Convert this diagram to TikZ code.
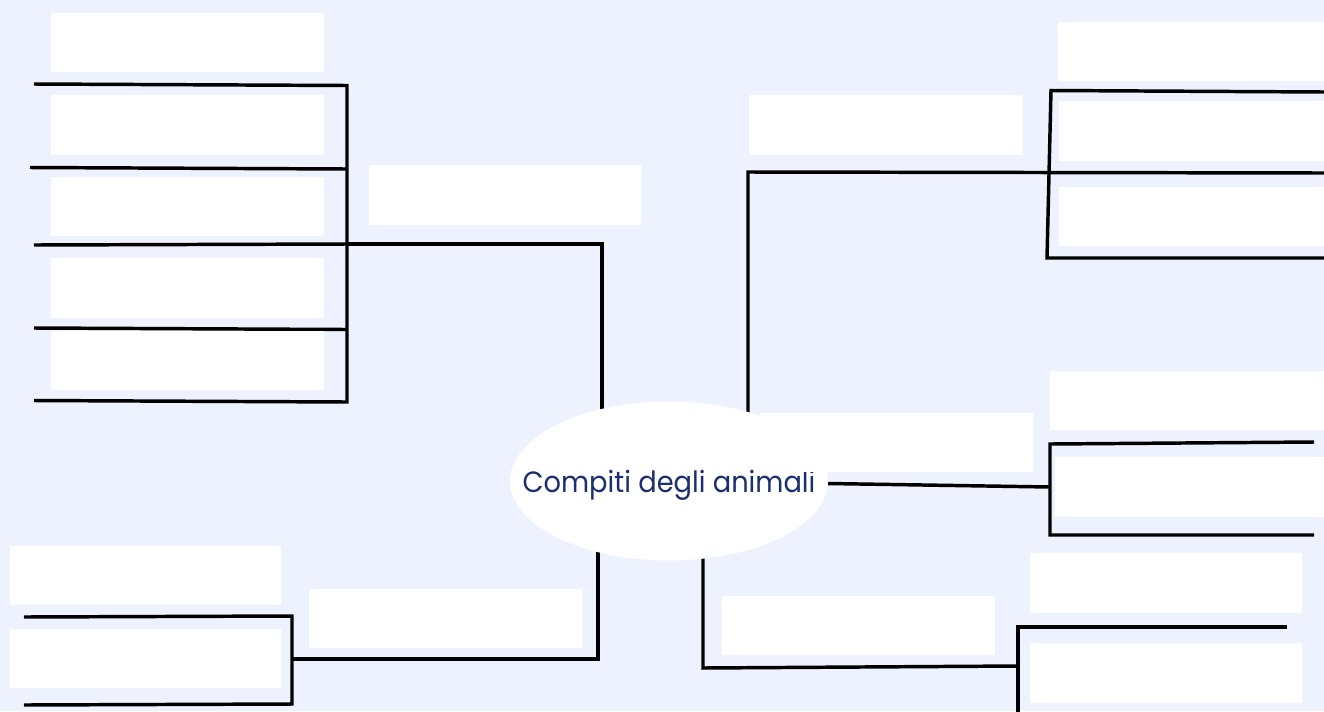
\documentclass[tikz,border=0pt]{standalone}
\usepackage{fontspec}
\setmainfont{Poppins}
\usetikzlibrary{fit,shapes.geometric}
\definecolor{bgc}{RGB}{238,242,254}
\definecolor{navy}{RGB}{27,47,110}
\pgfdeclarelayer{bgl}
\pgfdeclarelayer{lines}
\pgfsetlayers{bgl,lines,main}
\begin{document}
\begin{tikzpicture}[x=0.75pt,y=-0.75pt,
  box/.style={fill=white, draw=none, inner sep=0pt},
  ln/.style={line width=2.6pt, line join=miter}]
\begin{pgfonlayer}{bgl}
\fill[bgc] (0,0) rectangle (1324,711);
\end{pgfonlayer}
\useasboundingbox (0,0) rectangle (1324,711);

% centre
\node[ellipse, fill=white, inner sep=0pt, minimum width=238.5pt, minimum height=119.25pt] (C) at (669,481) {};
\node[text=navy, font=\fontsize{22}{25}\selectfont, anchor=base, inner sep=0pt] (T) at (669,492) {\scalebox{0.93}[1]{Compiti degli animali}};

% left group
\node[box, fit={(51,13)(324,72)}] (L0) {};
\node[box, fit={(51,95)(324,155)}] (L1) {};
\node[box, fit={(51,177)(324,236)}] (L2) {};
\node[box, fit={(51,258)(324,318)}] (L3) {};
\node[box, fit={(51,331)(324,390)}] (L4) {};
\node[box, fit={(369,165)(641,225)}] (Lm) {};

% right top group
\node[box, fit={(1058,22)(1324,81)}] (RT0) {};
\node[box, fit={(1059,101)(1324,161)}] (RT1) {};
\node[box, fit={(1059,187)(1324,246)}] (RT2) {};
\node[box, fit={(749,95)(1022,155)}] (RTm) {};

% right middle group
\node[box, fit={(1050,371)(1324,430)}] (RM0) {};
\node[box, fit={(1055,457)(1324,517)}] (RM1) {};
\node[box, fit={(760,413)(1033,472)}] (RMm) {};

% right bottom group
\node[box, fit={(1030,553)(1302,613)}] (RB0) {};
\node[box, fit={(1030,643)(1302,703)}] (RB1) {};
\node[box, fit={(722,596)(995,655)}] (RBm) {};

% lower left group
\node[box, fit={(10,546)(281,605)}] (LL0) {};
\node[box, fit={(10,629)(281,688)}] (LL1) {};
\node[box, fit={(309,589)(582,648)}] (LLm) {};

% connectors
\begin{pgfonlayer}{lines}
% left
\coordinate (lj) at (347,244);
\coordinate (lk) at (602,244);
\draw[ln] (34,84) -- (347,85.5) -- (347,402) -- (34,400.5);
\draw[ln] (30,167.5) -- (347,169);
\draw[ln] (34,245) -- (lj);
\draw[ln] (34,328) -- (347,329.5);
\draw[ln] (lj) -- (lk) -- (lk |- C.center);
% right top
\coordinate (rtj) at (748,172);
\draw[ln] (1324,92) -- (1051,90.5) -- (1047,258) -- (1324,258);
\draw[ln] (C.center -| rtj) -- (rtj) -- (1324,173);
% right middle
\coordinate (rmj) at (1050,487);
\draw[ln] (1314,442) -- (1050,444) -- (1050,535) -- (1314,535);
\draw[ln] (C.center) -- (rmj);
% right bottom
\coordinate (rbj) at (1018,666);
\coordinate (rbk) at (703,668);
\draw[ln] (1287,627) -- (1018,627) -- (1018,716);
\draw[ln] (C.center -| rbk) -- (rbk) -- (rbj);
% lower left
\coordinate (llj) at (292,659);
\coordinate (llk) at (598,659);
\draw[ln] (24,617) -- (292,616) -- (292,704) -- (24,705);
\draw[ln] (llj) -- (llk) -- (llk |- C.center);
\end{pgfonlayer}
\end{tikzpicture}
\end{document}
